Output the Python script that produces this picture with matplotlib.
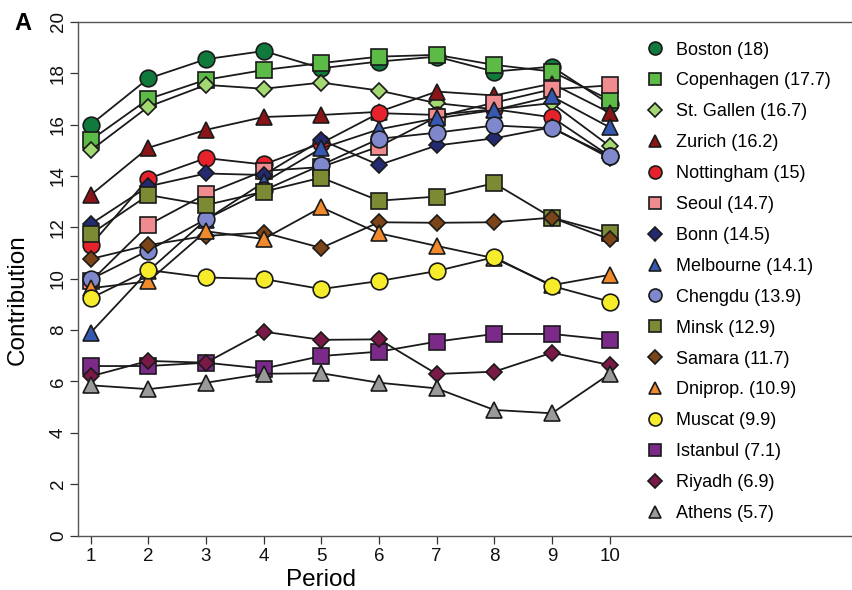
import numpy as np
import matplotlib.pyplot as plt

plt.rcParams['font.family'] = ['Liberation Sans', 'DejaVu Sans']

periods = np.arange(1, 11)

cities = ["Boston", "Copenhagen", "St. Gallen", "Zurich", "Nottingham", "Seoul",
          "Bonn", "Melbourne", "Chengdu", "Minsk", "Samara", "Dniprop.",
          "Muscat", "Istanbul", "Riyadh", "Athens"]
means = ["18", "17.7", "16.7", "16.2", "15", "14.7", "14.5", "14.1", "13.9",
         "12.9", "11.7", "10.9", "9.9", "7.1", "6.9", "5.7"]

boston = [16.0, 17.8, 18.55, 18.87, 18.2, 18.46, 18.65, 18.07, 18.26, 16.8]
copenhagen = [15.4, 17.0, 17.75, 18.13, 18.4, 18.65, 18.72, 18.33, 18.07, 16.97]
st_gallen = [15.0, 16.7, 17.55, 17.4, 17.64, 17.33, 16.84, 16.6, 16.84, 15.17]
zurich = [13.26, 15.1, 15.8, 16.3, 16.38, 16.5, 17.29, 17.14, 17.6, 16.47]
nottingham = [11.31, 13.9, 14.7, 14.45, 15.28, 16.45, 16.38, 16.6, 16.29, 14.78]
seoul = [9.9, 12.1, 13.3, 14.2, 14.35, 15.15, 16.3, 16.86, 17.38, 17.53]
bonn = [12.13, 13.6, 14.1, 14.04, 15.4, 14.43, 15.19, 15.47, 15.9, 14.7]
melbourne = [7.9, 10.3, 12.3, 13.75, 15.08, 15.82, 16.25, 16.57, 17.1, 15.9]
chengdu = [9.98, 11.1, 12.32, 13.44, 14.43, 15.45, 15.69, 15.97, 15.86, 14.78]
minsk = [11.74, 13.26, 12.87, 13.39, 13.94, 13.04, 13.2, 13.72, 12.38, 11.77]
samara = [10.77, 11.31, 11.67, 11.8, 11.2, 12.2, 12.18, 12.2, 12.38, 11.54]
dniprop = [9.63, 9.9, 11.85, 11.55, 12.78, 11.77, 11.28, 10.8, 9.75, 10.15]
muscat = [9.24, 10.34, 10.05, 9.99, 9.6, 9.91, 10.3, 10.84, 9.72, 9.11]
istanbul = [6.6, 6.6, 6.73, 6.5, 6.99, 7.16, 7.55, 7.85, 7.85, 7.62]
riyadh = [6.2, 6.8, 6.73, 7.94, 7.62, 7.64, 6.29, 6.38, 7.12, 6.64]
athens = [5.85, 5.7, 5.95, 6.3, 6.32, 5.95, 5.73, 4.89, 4.76, 6.29]

series = [boston, copenhagen, st_gallen, zurich, nottingham, seoul, bonn,
          melbourne, chengdu, minsk, samara, dniprop, muscat, istanbul,
          riyadh, athens]

colors = ["#0f7a3c", "#5cba47", "#a3d873", "#8a1518", "#e8222b", "#f08c90",
          "#242a70", "#3658b0", "#7f88cc", "#7c8a34", "#7b4419", "#f08a2c",
          "#f6ec2c", "#7b2a8a", "#7a1848", "#9a9a9a"]
markers = ["o", "s", "D", "^", "o", "s", "D", "^", "o", "s", "D", "^",
           "o", "s", "D", "^"]
msizes = {"o": 12, "s": 11, "D": 8.5, "^": 11.5}

fig = plt.figure(figsize=(8.52, 5.9), dpi=100)
ax = fig.add_axes([78 / 852, 54.5 / 590, 774 / 852, 513.5 / 590])

for i, (vals, c, m) in enumerate(zip(series, colors, markers)):
    ax.plot(periods, vals, color="#1a1a1a", lw=1.3, marker=m,
            markersize=msizes[m], markerfacecolor=c, markeredgecolor="#1a1a1a",
            markeredgewidth=1.2, zorder=2 + i,
            label="%s (%s)" % (cities[i], means[i]))

ax.set_xlim(0.78, 14.205)
ax.set_ylim(0, 20)
ax.set_xticks(periods)
ax.set_yticks(np.arange(0, 21, 2))
ax.tick_params(axis="both", direction="out", length=6, width=0.9,
               labelsize=13.5, colors="#333333", labelcolor="#111111")
ax.tick_params(axis="x", pad=3)
ax.tick_params(axis="y", pad=2)
for lab in ax.get_yticklabels():
    lab.set_rotation(90)
    lab.set_va("center")
for sp in ["left", "top", "bottom"]:
    ax.spines[sp].set_color("#555555")
    ax.spines[sp].set_linewidth(1.0)
ax.spines["right"].set_visible(False)

ax.set_xlabel("Period", fontsize=17.5, labelpad=-1)
ax.xaxis.set_label_coords(0.314, -0.065)
ax.set_ylabel("Contribution", fontsize=17.5)
ax.yaxis.set_label_coords(-0.064, 0.459)

leg = ax.legend(loc="upper left", bbox_to_anchor=(0.725, 0.976), frameon=False,
                fontsize=13, handlelength=1.0, handletextpad=0.65,
                labelspacing=0.77, borderaxespad=0)
for h in leg.legend_handles:
    h.set_linestyle("none")
    h.set_markersize(h.get_markersize() * 0.78)

fig.text(14 / 852, 1 - 30 / 590, "A", fontsize=17, fontweight="bold")

fig.savefig("out.png", dpi=100)
